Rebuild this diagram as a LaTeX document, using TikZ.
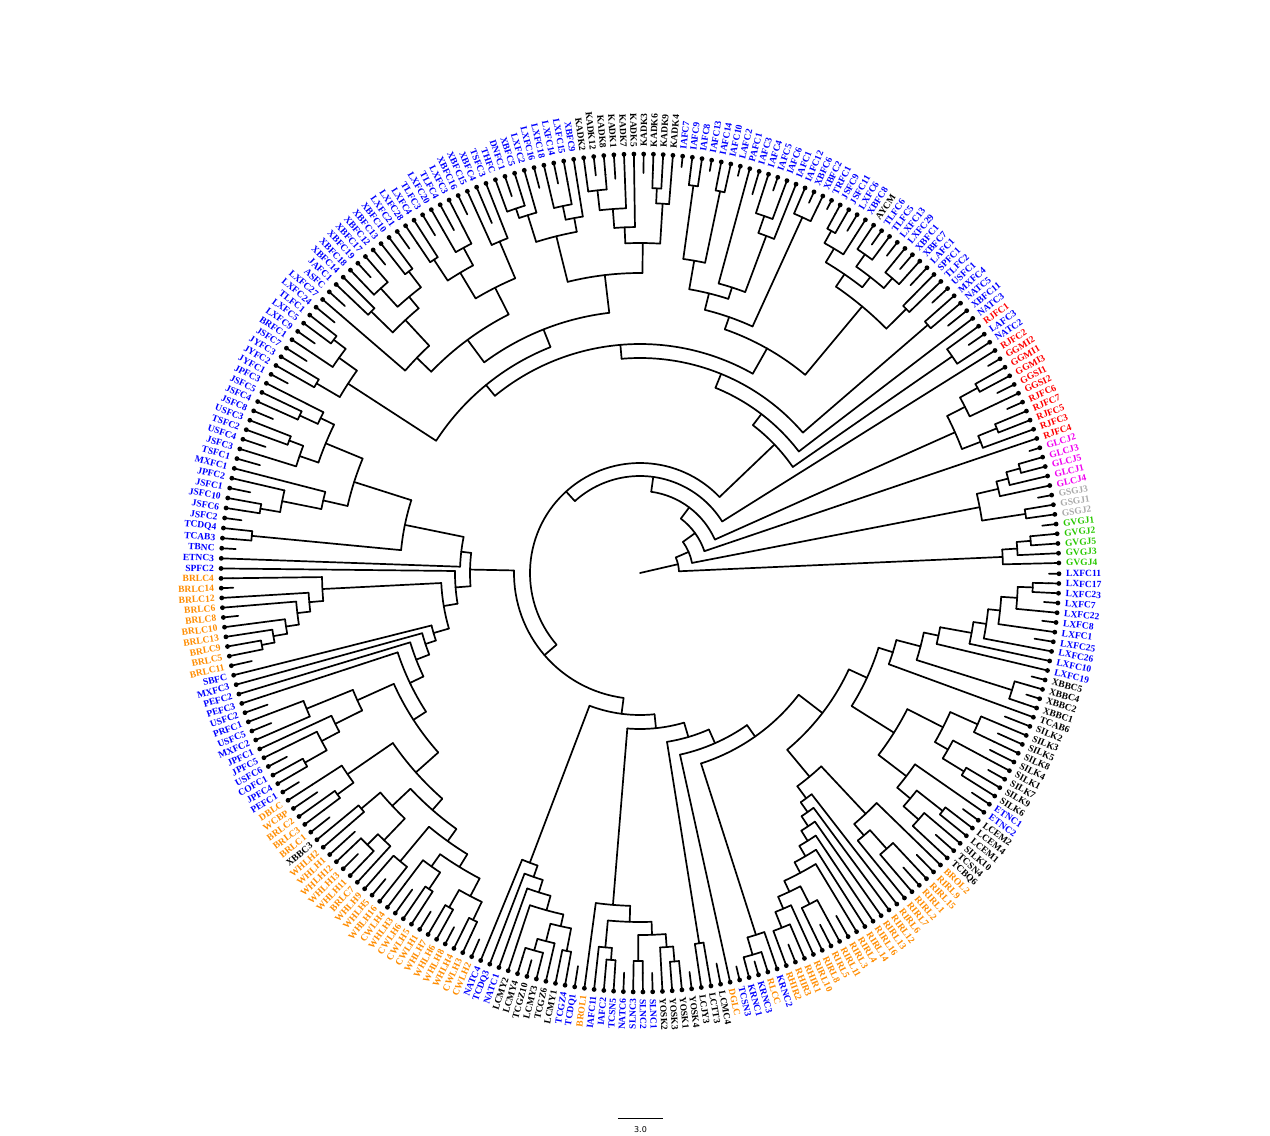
\documentclass[tikz,border=0pt]{standalone}
\usepackage{fontspec}
\setmainfont{Liberation Serif}
\setsansfont{DejaVu Sans}
\definecolor{cb}{RGB}{0,0,255}
\definecolor{ck}{RGB}{0,0,0}
\definecolor{co}{RGB}{255,140,0}
\definecolor{cr}{RGB}{255,0,0}
\definecolor{cm}{RGB}{240,0,240}
\definecolor{cg}{RGB}{170,170,170}
\definecolor{cv}{RGB}{40,200,0}
\newcount\leafno
\def\rtip{419}
\def\rlab{426}
\def\currentr{0}
\let\myfirst\relax
\def\upd#1{\ifx\myfirst\relax\def\myfirst{#1}\fi\def\mylast{#1}}
\def\tn#1#2{%
  \begingroup
  \let\parentr\currentr
  \def\currentr{#1}%
  \let\myfirst\relax
  #2%
  \pgfmathsetmacro\myang{(\myfirst+\mylast)/2}%
  \draw[br] (\myfirst:#1pt) arc[start angle=\myfirst,end angle=\mylast,radius=#1pt];%
  \draw[br] (\myang:\parentr pt) -- (\myang:#1pt);%
  \edef\next{\noexpand\endgroup\noexpand\upd{\myang}}%
  \next}
\def\lf#1#2{%
  \global\advance\leafno by 1
  \ifnum\leafno<69 \pgfmathsetmacro\la{-0.1-(\the\leafno-1)*1.33581}%
  \else\ifnum\leafno<136 \pgfmathsetmacro\la{-90-(\the\leafno-68.3)*1.33829}%
  \else\ifnum\leafno<200 \pgfmathsetmacro\la{-180-(\the\leafno-135.55)*1.38389}%
  \else \pgfmathsetmacro\la{-268.5-(\the\leafno-199.5)*1.33526}%
  \fi\fi\fi
  \draw[br] (\la:\currentr pt) -- (\la:\rtip pt);%
  \fill (\la:\rtip pt) circle[radius=2.4pt];%
  \pgfmathsetmacro\cc{cos(\la)}%
  \ifdim\cc pt<0pt
    \pgfmathsetmacro\rot{\la+180}%
    \node[lab,text=c#1,anchor=east,rotate=\rot] (lab\the\leafno) at (\la:\rlab pt) {#2};%
  \else
    \node[lab,text=c#1,anchor=west,rotate=\la] (lab\the\leafno) at (\la:\rlab pt) {#2};%
  \fi
  \upd{\la}}
\begin{document}
\begin{tikzpicture}[x=1pt,y=1pt,
  br/.style={line width=1.7pt,line cap=round},
  lab/.style={inner sep=0pt,font=\fontsize{9.5}{10}\selectfont\bfseries}]
\useasboundingbox (-640,-563) rectangle (630,573);
\tn{39}{% root
 \tn{53}{% N1
  \tn{68}{% N2
   \tn{82}{% N3
    \tn{97}{% N4
     \tn{110}{% N5
      \tn{126}{% N6
       \tn{142}{% N7
        \tn{156}{% N8
         \tn{171}{% N9
          \tn{186}{% N10
           \tn{200}{% N11
            \tn{230}{% N12
             % R : 1-33
             \tn{250}{%
              \tn{265}{%
               \tn{290}{%
                \tn{305}{%
                 \tn{337}{%
                  \tn{350}{%
                   \tn{362}{%
                    \tn{378}{%
                     \tn{393}{\tn{409}{\lf{b}{LXFC11}\lf{b}{LXFC17}}\lf{b}{LXFC23}}%
                     \tn{405}{\lf{b}{LXFC7}\lf{b}{LXFC22}}}%
                    \tn{405}{\lf{b}{LXFC8}\lf{b}{LXFC1}}}%
                   \tn{400}{\lf{b}{LXFC25}\lf{b}{LXFC26}}}%
                  \lf{b}{LXFC10}}%
                 \lf{b}{LXFC19}}%
                \tn{390}{\tn{405}{\lf{k}{XBBC5}\lf{k}{XBBC4}}\tn{405}{\lf{k}{XBBC2}\lf{k}{XBBC1}}}}%
               \lf{k}{TCAB6}}%
              \tn{300}{%
               \tn{340}{\tn{370}{\tn{392}{\lf{k}{SILK2}\lf{k}{SILK3}}\tn{392}{\lf{k}{SILK5}\lf{k}{SILK8}}}\tn{355}{\tn{392}{\lf{k}{SILK4}\lf{k}{SILK1}}\tn{380}{\tn{400}{\lf{k}{SILK7}\lf{k}{SILK9}}\lf{k}{SILK6}}}}%
               \tn{335}{\tn{398}{\lf{b}{ETNC1}\lf{b}{ETNC2}}\tn{352}{\tn{385}{\tn{400}{\lf{k}{LCEM2}\lf{k}{LCEM4}}\lf{k}{LCEM1}}\tn{372}{\lf{k}{SILK10}\tn{395}{\lf{k}{TCSN4}\lf{k}{TCBQ6}}}}}}}%
             % E : 34-53
             \tn{265}{%
              \tn{330}{\lf{o}{BROL2}\tn{345}{\tn{370}{\tn{395}{\lf{o}{RIRL9}\lf{o}{RIRL15}}\tn{395}{\lf{o}{RIRL1}\lf{o}{RIRL2}}}\lf{o}{RIRL7}}}%
              \tn{280}{\lf{o}{RIRL6}\tn{292}{\lf{o}{RIRL12}\tn{304}{\lf{o}{RIRL13}\tn{316}{\lf{o}{RIRL16}\tn{328}{\lf{o}{RIRL14}\tn{340}{\lf{o}{RIRL4}%
                \tn{352}{\tn{372}{\tn{395}{\lf{o}{RIRL3}\lf{o}{RIRL11}}\tn{395}{\lf{o}{RIRL5}\lf{o}{RIRL8}}}%
                        \tn{365}{\lf{o}{RIRL10}\tn{382}{\lf{o}{RHIR1}\tn{400}{\lf{o}{RHIR3}\lf{o}{RHIR2}}}}}%
              }}}}}}}}% close 340 328 316 304 292 280 265 N12
           \tn{380}{\lf{b}{KRNC2}\tn{398}{\lf{o}{RLCC}\tn{405}{\lf{b}{KRNC3}\lf{b}{KRNC1}}}}}% + close N11
          \tn{405}{\lf{b}{TCSN3}\lf{o}{DGLC}}}% + close N10
         \tn{375}{\tn{398}{\lf{k}{LCMC4}\lf{k}{LCTT3}}\lf{k}{LCJY3}}}% + close N9
        \tn{333}{\tn{349}{\tn{362}{\tn{375}{\tn{390}{\tn{402}{\lf{k}{YOSK4}\lf{k}{YOSK1}}\lf{k}{YOSK3}}\lf{k}{YOSK2}}\tn{388}{\tn{400}{\lf{b}{SLNC1}\lf{b}{SLNC2}}\lf{b}{SLNC3}}}\tn{376}{\tn{388}{\tn{400}{\lf{b}{NATC6}\lf{b}{TCSN5}}\lf{b}{IAFC2}}\lf{b}{IAFC11}}}\lf{o}{BROL1}}}% + close N8
       \tn{310}{\tn{322}{\tn{335}{\tn{350}{\tn{362}{\tn{385}{\tn{398}{\lf{b}{TCDQ1}\lf{b}{TCGZ4}}\lf{k}{LCMY1}}\tn{380}{\lf{k}{TCGZ6}\tn{392}{\lf{k}{LCMY3}\tn{402}{\lf{k}{TCGZ10}\lf{k}{LCMY4}}}}}\lf{k}{LCMY2}}\lf{b}{NATC1}}\lf{b}{TCDQ3}}\lf{b}{NATC4}}}% + close N7
      % LEFT : 86-155
      \tn{170}{%
       \tn{185}{%
        \tn{199}{%
         \tn{215}{%
          \tn{226}{%
           \tn{240}{%
            \tn{255}{%
             \tn{270}{%
              % J : 86-111
              \tn{300}{%
               \tn{315}{%
                \tn{330}{\tn{345}{\tn{365}{\tn{385}{\tn{400}{\lf{o}{CWLH2}\lf{o}{CWLH3}}\lf{o}{WHLH4}}\tn{385}{\tn{400}{\lf{o}{WHLH8}\lf{o}{WHLH6}}\lf{o}{WHLH7}}}\tn{360}{\tn{380}{\tn{398}{\lf{o}{CWLH1}\lf{o}{CWLH5}}\lf{o}{CWLH6}}\tn{390}{\lf{o}{WHLH3}\lf{o}{CWLH4}}}}\tn{375}{\lf{o}{WHLH16}\tn{398}{\lf{o}{WHLH5}\lf{o}{WHLH9}}}}%
                \tn{340}{\tn{370}{\lf{o}{BRLC7}\tn{385}{\lf{o}{WHLH11}\tn{398}{\lf{o}{WHLH13}\lf{o}{WHLH12}}}}\tn{365}{\tn{385}{\lf{o}{WHLH1}\lf{o}{WHLH2}}\lf{k}{XBBC3}}}}%
               \tn{355}{\tn{375}{\tn{395}{\lf{o}{BRLC1}\lf{o}{BRLC3}}\lf{o}{BRLC2}}\tn{390}{\lf{o}{WCBP}\lf{o}{DBLC}}}}%
              % Kq : 112-120
              \tn{310}{\tn{340}{\tn{360}{\tn{385}{\tn{400}{\lf{b}{PEFC1}\lf{b}{JPFC4}}\lf{b}{COFC1}}\tn{398}{\lf{b}{USFC6}\lf{b}{JPFC5}}}\lf{b}{JPFC1}}\tn{360}{\lf{b}{MXFC2}\tn{398}{\lf{b}{USFC5}\lf{b}{PRFC1}}}}}%
             \tn{395}{\lf{b}{USFC2}\lf{b}{PEFC3}}}%
            \lf{b}{PEFC2}}%
           \lf{b}{MXFC3}}%
          \lf{b}{SBFC}}%
         % BRLC : 126-135
         \tn{318}{\tn{332}{\tn{345}{\tn{358}{\tn{372}{\tn{385}{\tn{398}{\lf{o}{BRLC11}\lf{o}{BRLC5}}\lf{o}{BRLC9}}\lf{o}{BRLC13}}\lf{o}{BRLC10}}\tn{404}{\lf{o}{BRLC8}\lf{o}{BRLC6}}}\lf{o}{BRLC12}}\tn{407}{\lf{o}{BRLC14}\lf{o}{BRLC4}}}}%
        \lf{b}{SPFC2}}%
       \tn{180}{%
        \lf{b}{ETNC3}%
        \tn{240}{%
         \tn{390}{\tn{405}{\lf{b}{TBNC}\lf{b}{TCAB3}}\lf{b}{TCDQ4}}%
         \tn{300}{%
          \tn{325}{\tn{365}{\tn{385}{\tn{402}{\lf{b}{JSFC2}\lf{b}{JSFC6}}\lf{b}{JSFC10}}\tn{398}{\lf{b}{JSFC1}\lf{b}{JPFC2}}}\lf{b}{MXFC1}}%
          \tn{340}{\tn{360}{\tn{395}{\lf{b}{TSFC1}\lf{b}{JSFC3}}\tn{375}{\tn{395}{\lf{b}{USFC4}\lf{b}{TSFC2}}\lf{b}{USFC3}}}\tn{355}{\tn{375}{\tn{398}{\lf{b}{JSFC8}\lf{b}{JSFC4}}\lf{b}{JSFC5}}\lf{b}{JPFC3}}}}}}}}% close N6
     % T1 : 156-243
     \tn{186}{%
      \tn{200}{%
       \tn{215}{%
        \tn{229}{%
         % T6
         \tn{243}{%
          \tn{348}{\tn{375}{\tn{400}{\lf{b}{JYFC1}\lf{b}{JYFC2}}\lf{b}{JYFC3}}\tn{370}{\tn{395}{\lf{b}{JSFC7}\lf{b}{BRFC1}}\tn{385}{\tn{398}{\lf{b}{LXFC9}\lf{b}{LXFC5}}\lf{b}{TLFC1}}}}%
          \tn{262}{%
           \tn{290}{%
            \tn{310}{%
             \tn{395}{\lf{b}{LXFC24}\lf{b}{LXFC27}}%
             \tn{345}{\tn{375}{\tn{398}{\lf{b}{ASFC}\lf{b}{JAFC1}}\lf{b}{XBFC14}}\tn{360}{\tn{385}{\lf{b}{XBFC18}\tn{400}{\lf{b}{XBFC19}\lf{b}{XBFC17}}}\tn{380}{\tn{400}{\lf{b}{XBFC12}\lf{b}{XBFC13}}\lf{b}{XBFC10}}}}}%
            \tn{320}{%
             \tn{350}{\tn{375}{\tn{398}{\lf{b}{LXFC21}\lf{b}{LXFC28}}\lf{b}{LXFC4}}\tn{370}{\tn{395}{\lf{b}{TLFC3}\lf{b}{LXFC20}}\tn{390}{\lf{b}{TLFC4}\lf{b}{LXFC3}}}}%
             \tn{360}{\tn{398}{\lf{b}{XBFC16}\lf{b}{XBFC15}}\tn{380}{\lf{b}{XBFC4}\lf{b}{TSFC3}}}}}%
           \tn{300}{%
            \tn{347}{\tn{375}{\tn{385}{\lf{b}{THFC}\tn{398}{\lf{b}{DNFC1}\lf{b}{XBFC5}}}\lf{b}{LXFC2}}\tn{361}{\tn{375}{\tn{398}{\lf{b}{LXFC16}\lf{b}{LXFC18}}\tn{398}{\lf{b}{LXFC14}\lf{b}{LXFC15}}}\lf{b}{XBFC9}}}%
            \tn{330}{\tn{346}{\tn{365}{\tn{385}{\lf{k}{KADK2}\tn{400}{\lf{k}{KADK12}\lf{k}{KADK8}}}\tn{395}{\lf{k}{KADK1}\lf{k}{KADK7}}}\lf{k}{KADK5}}\tn{370}{\tn{385}{\tn{400}{\lf{k}{KADK3}\lf{k}{KADK6}}\lf{k}{KADK9}}\lf{k}{KADK4}}}}}}%
         % T5
         \tn{258}{%
          \tn{271}{%
           \tn{288}{%
            \tn{317}{\tn{391}{\tn{408}{\lf{b}{IAFC7}\lf{b}{IAFC9}}\lf{b}{IAFC8}}\tn{390}{\tn{408}{\lf{b}{IAFC13}\lf{b}{IAFC14}}\lf{b}{IAFC10}}}%
            \tn{300}{\tn{409}{\lf{b}{LAFC2}\lf{b}{PAFC1}}\tn{360}{\tn{378}{\tn{395}{\lf{b}{IAFC3}\lf{b}{IAFC4}}\tn{405}{\lf{b}{IAFC5}\lf{b}{IAFC6}}}\lf{b}{IAFC1}}}}%
           \tn{391}{\lf{b}{IAFC12}\tn{407}{\lf{b}{XBFC6}\lf{b}{XBFC2}}}}%
          \tn{347}{%
           \tn{362}{\tn{378}{\tn{392}{\tn{409}{\lf{b}{TRFC1}\lf{b}{JSFC9}}\lf{b}{JSFC11}}\tn{400}{\lf{b}{LXFC6}\lf{b}{XBFC8}}}\tn{375}{\tn{390}{\lf{k}{AYCM}\tn{402}{\lf{b}{TLFC6}\lf{b}{TLFC5}}}\tn{388}{\tn{402}{\lf{b}{LXFC13}\lf{b}{LXFC29}}\tn{400}{\lf{b}{XBFC1}\lf{b}{XBFC7}}}}}%
           \tn{375}{\tn{395}{\lf{b}{LAFC1}\lf{b}{SPFC1}}\lf{b}{TLFC2}}}}}% close 258 229
        \tn{380}{\tn{398}{\lf{b}{USFC1}\lf{b}{MXFC4}}\lf{b}{NATC5}}}% close 215
       \tn{395}{\lf{b}{XBFC11}\lf{b}{NATC3}}}% close 200
      \tn{380}{\lf{r}{RJFC1}\tn{400}{\lf{b}{LAFC3}\lf{b}{NATC2}}}}% close 186
     }% close N5
    \lf{r}{RJFC2}}% close N4
   \tn{345}{\tn{365}{\tn{385}{\tn{405}{\lf{r}{GGMI2}\lf{r}{GGMI1}}\lf{r}{GGMI3}}\tn{400}{\lf{r}{GGSI1}\lf{r}{GGSI2}}}\tn{365}{\tn{385}{\tn{402}{\lf{r}{RJFC6}\lf{r}{RJFC7}}\lf{r}{RJFC5}}\lf{r}{RJFC3}}}}% close N3
  \lf{r}{RJFC4}}% close N2
  \tn{346}{\tn{368}{\tn{380}{\tn{394}{\tn{408}{\lf{m}{GLCJ2}\lf{m}{GLCJ3}}\lf{m}{GLCJ5}}\lf{m}{GLCJ1}}\lf{m}{GLCJ4}}\tn{390}{\tn{405}{\lf{g}{GSGJ3}\lf{g}{GSGJ1}}\lf{g}{GSGJ2}}}}% close N1
 \tn{363}{\tn{378}{\tn{392}{\tn{405}{\lf{v}{GVGJ1}\lf{v}{GVGJ2}}\lf{v}{GVGJ5}}\lf{v}{GVGJ3}}\lf{v}{GVGJ4}}}% close root
\coordinate (sbA) at (-22,-545);
\coordinate (sbB) at (23,-545);
\draw[line width=0.8pt] (sbA) -- (sbB);
\node[font=\sffamily\fontsize{8}{9}\selectfont,inner sep=0pt] (sbl) at (0.5,-557) {3.0};
\end{tikzpicture}
\end{document}
